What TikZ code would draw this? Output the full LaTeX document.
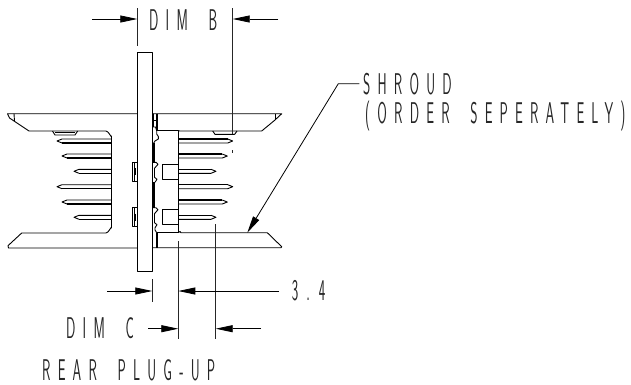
\documentclass[tikz,border=0pt]{standalone}
\usepackage{fontspec}
\usepackage{xcolor}
\setsansfont[LetterSpace=24,FakeStretch=0.46,WordSpace=1.8]{Latin Modern Sans}
\usetikzlibrary{arrows.meta, calc}

\begin{document}
\begin{tikzpicture}[
    x=1pt, y=-1pt,
    part/.style={draw=black, line width=0.9pt, line join=round},
    pinline/.style={draw=black, line width=1.3pt},
    heavy/.style={draw=black, line width=1.6pt},
    dimline/.style={draw=black!85, line width=0.8pt},
    dimarrow/.style={draw=black, line width=0.8pt, -{Triangle[length=17pt,width=7pt]}},
    label/.style={inner sep=0pt, anchor=base west, font=\sffamily\fontsize{30}{30}\selectfont, text=black!85}
]
    \useasboundingbox (0,0) rectangle (631,384);

    % shroud, left half
    \draw[part] (137.3,113.7) -- (7.5,113.7) -- (9.5,118) -- (29,131) -- (106,131)
        to[out=0,in=-90] (111.5,136) -- (111.5,228) to[out=90,in=0] (106,233) -- (21.7,233)
        -- (8,245.7) -- (8.5,248) -- (137.3,248);
    \draw[part] (14,113.7) -- (14.5,121);
    \draw[part] (52.5,131) -- (55,135) -- (75,135) -- (77.7,131);
    \draw[part] (55,132.5) -- (75,132.5);

    % shroud, right half
    \draw[part] (152.3,113.7) -- (281.7,113.7) -- (275,120) -- (261.7,131) -- (180,131) -- (178.3,130.7);
    \draw[part] (275,113.7) -- (275,120);
    \draw[part] (212.7,131) -- (215,134.3) -- (234.7,134.3) -- (237,131);
    \draw[part] (178.3,232.7) -- (180,231.5) -- (181,232.7) -- (267.3,232.7) -- (281.7,246.7) -- (281,247.7) -- (152.3,247.7);
    \draw[heavy] (156.7,113.7) -- (156.7,130.7);
    \draw[heavy] (156.7,233) -- (156.7,247.7);

    % board
    \node[part, minimum width=15pt, minimum height=219.3pt, inner sep=0pt, anchor=north west] (board) at (137.3,51.7) {};

    % header body
    \draw[part] (156.7,130.7) -- (178.3,130.7) -- (178.3,232.7) -- (156.7,232.7);
    \draw[part] (162.7,164.7) rectangle (178.3,179.3);
    \draw[part] (162.7,209.3) rectangle (178.3,224);

    % clips
    \foreach \cliptop in {162.3,207.7} {
        \draw[part] (137.3,\cliptop) -- (132.3,\cliptop) -- ($(132.3,\cliptop)+(0,19)$) -- ($(137.3,\cliptop)+(0,19)$);
        \draw[part] ($(134.3,\cliptop)+(0,0)$) -- ($(134.3,\cliptop)+(0,19)$);
        \draw[heavy] ($(135.5,\cliptop)+(0,6)$) -- ($(135.5,\cliptop)+(0,13)$);
        \draw[part] ($(152.7,\cliptop)+(0,0)$) -- ($(156,\cliptop)+(0,0)$) -- ($(158,\cliptop)+(0,2)$)
            -- ($(154.5,\cliptop)+(0,6)$) -- ($(154.5,\cliptop)+(0,15)$) -- ($(157,\cliptop)+(0,17)$) -- ($(155,\cliptop)+(0,20)$);
    }
    \draw[part] (153.3,113.7) -- (153.3,127) -- (155.5,127) -- (156.7,130.7) -- (156.7,134)
        -- (158.3,136.5) -- (158.3,139) -- (155,141) -- (153.7,143);
    \draw[heavy] (153.7,143) -- (153.7,162);
    \draw[heavy] (153.7,182) -- (153.7,207.7);
    \draw[part] (155,227.5) -- (155,230) -- (156.7,232.7);
    \draw[part] (153,120) -- (156,120);

    % pins, left and right
    \foreach \piny/\pinl/\pinr in {141/57/232.7,156/62/227.3,171.3/74/216,186.7/57/232.7,202/62/227.3,217.3/74/216} {
        \draw[part] (111.5,\piny-2) -- (\pinl+5,\piny-2) -- (\pinl,\piny) -- (\pinl+5,\piny+2);
        \draw[pinline] (\pinl+5,\piny+2) -- (111.5,\piny+2);
        \draw[part] (178.3,\piny+2) -- (\pinr-5,\piny+2) -- (\pinr,\piny) -- (\pinr-5,\piny-2);
        \draw[pinline] (\pinr-5,\piny-2) -- (178.3,\piny-2);
    }

    % extension lines
    \coordinate (dimbleft) at (137.3,8);
    \coordinate (dimbleftend) at (137.3,45.7);
    \coordinate (dimbright) at (232.7,8);
    \coordinate (dimbrightend) at (232.7,134);
    \coordinate (dimcupper) at (152.3,279);
    \coordinate (dimclower) at (152.3,302);
    \coordinate (bodyupper) at (178.3,241);
    \coordinate (bodylower) at (178.3,339.3);
    \coordinate (pinupper) at (215.7,224);
    \coordinate (pinlower) at (215.7,339.3);
    \draw[dimline] (dimbleft) -- (dimbleftend);
    \draw[dimline] (dimbright) -- (dimbrightend);
    \draw[dimline] (dimcupper) -- (dimclower);
    \draw[dimline] (bodyupper) -- (bodylower);
    \draw[dimline] (pinupper) -- (pinlower);
    \draw[dimline] (232.7,150) -- (232.7,153);

    % dimension arrows
    \coordinate (dimbin) at (92.3,19);
    \coordinate (dimbhit) at (137.3,19);
    \coordinate (dimbout) at (278.3,19);
    \coordinate (dimbhitr) at (232.7,19);
    \coordinate (dimain) at (107.3,291);
    \coordinate (dimahit) at (152.3,291);
    \coordinate (dimaout) at (279,291);
    \coordinate (dimahitr) at (178.3,291);
    \coordinate (dimcin) at (148.3,328.7);
    \coordinate (dimchit) at (178.3,328.7);
    \coordinate (dimcout) at (261,328.7);
    \coordinate (dimchitr) at (215.7,328.7);
    \draw[dimarrow] (dimbin) -- (dimbhit);
    \draw[dimarrow] (dimbout) -- (dimbhitr);
    \draw[dimarrow] (dimain) -- (dimahit);
    \draw[dimarrow] (dimaout) -- (dimahitr);
    \draw[dimarrow] (dimcin) -- (dimchit);
    \draw[dimarrow] (dimcout) -- (dimchitr);

    % labels
    \node[label] (dimb) at (149,30) {DIM B};
    \node[label] (shroud) at (363,94) {SHROUD};
    \node[label] (order) at (365,123) {(ORDER SEPERATELY)};
    \node[label] (threefour) at (291.7,300.7) {3\kern8pt.\kern9pt4};
    \node[label] (dimc) at (66,338) {DIM C};
    \node[label] (rear) at (42,380) {REAR PLUG-UP};

    % leader
    \coordinate (leaderknee) at (338.3,83.7);
    \coordinate (leaderhit) at (247.3,232.7);
    \draw[dimarrow] (shroud.west |- leaderknee) ++(-3.7,0) -- (leaderknee) -- (leaderhit);
\end{tikzpicture}
\end{document}
